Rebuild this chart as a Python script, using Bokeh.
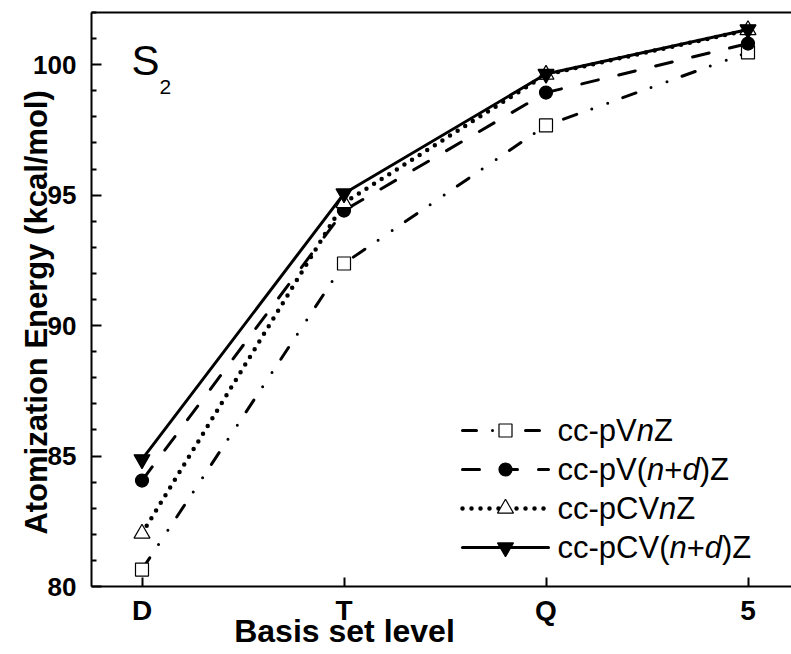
import math
from bokeh.plotting import figure
from bokeh.models import Range1d, FixedTicker, LinearAxis, Label, Title
from bokeh.embed import file_html
from bokeh.resources import INLINE

# ---------------- data ----------------
levels = ["D", "T", "Q", "5"]
level_pos = [1, 2, 3, 4]
pvnz = [80.65, 92.38, 97.67, 100.47]        # cc-pVnZ
pvndz = [84.06, 94.41, 98.93, 100.81]       # cc-pV(n+d)Z
pcvnz = [82.03, 94.70, 99.62, 101.33]       # cc-pCVnZ
pcvndz = [84.87, 95.06, 99.64, 101.35]      # cc-pCV(n+d)Z
y_ticks = [80, 85, 90, 95, 100]
y_minor = [v for v in range(80, 103) if v % 5 != 0]

legend_texts = [
    [("cc-pV", False), ("n", True), ("Z", False)],
    [("cc-pV(", False), ("n", True), ("+", False), ("d", True), (")Z", False)],
    [("cc-pCV", False), ("n", True), ("Z", False)],
    [("cc-pCV(", False), ("n", True), ("+", False), ("d", True), (")Z", False)],
]

# ---------------- geometry ----------------
W, H = 791, 654
FL, FT, FB = 91, 12, 68
FR = 0
frame_w = W - FL - FR
frame_h = H - FT - FB
x0, px_per_x = 0.75, 202.0
x1 = x0 + frame_w / px_per_x
y0, y1 = 80.0, 102.0
px_per_y = frame_h / (y1 - y0)

def dx(px):
    return x0 + (px - FL) / px_per_x

def dy(py):
    return y0 + (FT + frame_h - py) / px_per_y

FONT = "Liberation Sans"
YT_FS = 31
XT_FS = 32

p = figure(width=W, height=H, output_backend="svg", toolbar_location=None,
           x_range=Range1d(x0, x1), y_range=Range1d(y0, y1),
           min_border_left=FL, min_border_right=FR, min_border_top=FT,
           min_border_bottom=FB, background_fill_color="white",
           border_fill_color="white", outline_line_color=None)
p.grid.visible = False

xa = p.xaxis[0]
xa.ticker = FixedTicker(ticks=level_pos)
xa.major_label_overrides = {k: v for k, v in zip(level_pos, levels)}
xa.major_label_text_font = FONT
xa.major_label_text_font_style = "bold"
xa.major_label_text_font_size = "28px"
xa.major_label_text_color = "black"
xa.major_label_standoff = 8
xa.major_tick_in = 9
xa.major_tick_out = 0
xa.minor_tick_line_color = None
xa.axis_line_width = 2
xa.major_tick_line_width = 2

ya = p.yaxis[0]
ya.ticker = FixedTicker(ticks=y_ticks, minor_ticks=y_minor)
ya.major_label_text_font = FONT
ya.major_label_text_font_style = "bold"
ya.major_label_text_font_size = "26px"
ya.major_label_text_color = "black"
ya.major_label_standoff = 15
ya.major_tick_in = 10
ya.major_tick_out = 0
ya.minor_tick_in = 5
ya.minor_tick_out = 0
ya.axis_line_width = 2
ya.major_tick_line_width = 2
ya.minor_tick_line_width = 2
# trailing no-break spaces nudge the rotated title a little downwards
ya.axis_label = "Atomization Energy (kcal/mol)" + "\u00a0" * 3
ya.axis_label_text_font = FONT
ya.axis_label_text_font_size = f"{YT_FS}px"
ya.axis_label_text_font_style = "bold"
ya.axis_label_text_color = "black"
ya.axis_label_standoff = -24

top = LinearAxis(ticker=FixedTicker(ticks=[]), axis_line_width=2,
                 major_label_text_font_size="0px", major_tick_in=0,
                 major_tick_out=0, minor_tick_in=0, minor_tick_out=0)
p.add_layout(top, "above")

# x-axis title as a Title panel below the axis
xt_text = "Basis set level"
bold_w = {"B": 0.722, "a": 0.556, "s": 0.556, "i": 0.278, " ": 0.278,
          "e": 0.556, "t": 0.333, "l": 0.278, "v": 0.556}
xt_width = sum(bold_w[ch] for ch in xt_text) * XT_FS
p.add_layout(Title(text=xt_text, align="left", offset=344 - xt_width / 2 - FL,
                   vertical_align="middle", standoff=-33, text_font=FONT,
                   text_font_size=f"{XT_FS}px", text_font_style="bold",
                   text_color="black"), "below")

styles = [
    dict(dash="14 16 0 17 0 16", lw=3, marker="square", size=13, fill="white"),
    dict(dash="17 21", lw=3, marker="circle", size=13, fill="black"),
    dict(dash="0 9", lw=4.5, marker="triangle", size=16, fill="white"),
    dict(dash="solid", lw=3, marker="inverted_triangle", size=16, fill="black"),
]
series = [pvnz, pvndz, pcvnz, pcvndz]

for vals, st in zip(series, styles):
    p.line(level_pos, vals, line_color="black", line_width=st["lw"],
           line_dash=st["dash"], line_cap="round")
    p.scatter(level_pos, vals, marker=st["marker"], size=st["size"],
              fill_color=st["fill"], line_color="black", line_width=1.2)

widths = {"c": 0.5, "-": 0.333, "p": 0.556, "V": 0.667, "C": 0.722, "(": 0.333,
          ")": 0.333, "+": 0.584, "Z": 0.611, "n": 0.556, "d": 0.556}
LEG_FS = 31
row_py = [430, 469, 508, 547]
for i, (st, pieces) in enumerate(zip(styles, legend_texts)):
    yy = dy(row_py[i])
    p.line([dx(462), dx(548)], [yy, yy], line_color="black", line_width=st["lw"],
           line_dash=st["dash"], line_cap="round")
    p.scatter([dx(505)], [yy], marker=st["marker"], size=st["size"],
              fill_color=st["fill"], line_color="black", line_width=1.2)
    cx = 557.0
    for seg, it in pieces:
        p.add_layout(Label(x=dx(cx), y=yy, text=seg, text_font=FONT,
                           text_font_size=f"{LEG_FS}px",
                           text_font_style="italic" if it else "normal",
                           text_baseline="middle", text_align="left",
                           text_color="black"))
        cx += sum(widths[ch] for ch in seg) * LEG_FS

p.add_layout(Label(x=dx(131), y=dy(60), text="S", text_font=FONT,
                   text_font_size="42px", text_baseline="middle",
                   text_color="black"))
p.add_layout(Label(x=dx(159), y=dy(86), text="2", text_font=FONT,
                   text_font_size="21px", text_baseline="middle",
                   text_color="black"))

open("out.html", "w").write(file_html(p, INLINE))
